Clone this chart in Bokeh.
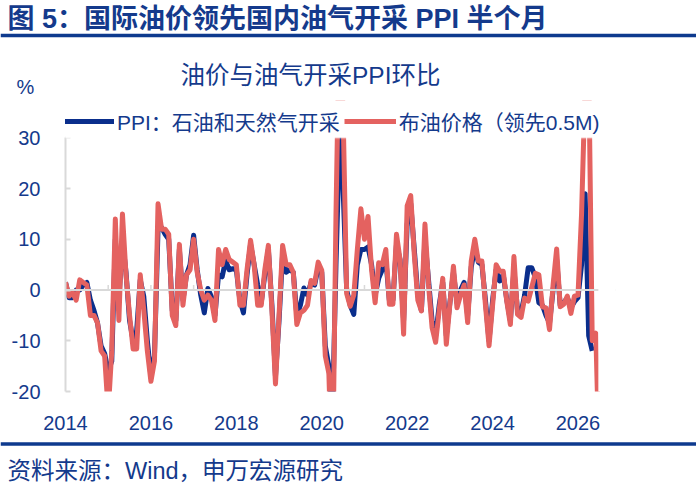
from bokeh.plotting import figure
from bokeh.layouts import column
from bokeh.models import (Range1d, Label, Span, Legend, LegendItem, FixedTicker,
                          BoxAnnotation, ColumnDataSource, PrintfTickFormatter)
from bokeh.embed import file_html
from bokeh.resources import INLINE

# ---------------- data ----------------
title_text = "图 5：国际油价领先国内油气开采 PPI 半个月"
subtitle_text = "油价与油气开采PPI环比"
unit_text = "%"
source_text = "资料来源：Wind，申万宏源研究"
series_names = ["PPI：石油和天然气开采", "布油价格（领先0.5M)"]

start_year = 2014          # first monthly observation: Jan 2014
x_end = 2026.48            # end of the time axis
year_labels = [2014, 2016, 2018, 2020, 2022, 2024, 2026]
year_marks = [2015, 2016, 2017, 2018, 2019, 2020, 2021, 2022, 2023, 2024, 2025, 2026]
y_ticks = [-20, -10, 0, 10, 20, 30]

# PPI: oil & gas extraction, m/m %, monthly from Jan 2014
ppi = [1.5, -1.5, -1.5, 0, 0, 1, 1.5, -2, -4, -6.5, -11, -12.5,
       -16, -14, 10, -2, 10, 3.5, -6, -10, -8, 2, -1.3, -10,
       -17, -13, 12, 12.3, 11, 10, -4, -6, 8, -2, 3, 5,
       10.8, 4, -1, -4.5, 0.3, -1.3, -5, 3, 2.6, 5.8, 4, 4.2,
       4, -2, -4.5, 3, 9, 5, 1, -2.5, 3, 8, -3, -17,
       -6, 7, 3.5, 4, 3.5, -5, -3, 0.4, -1, 1.5, 1, 4.5,
       3.5, -11, -15, -25, 5, 30, 20, 0, -3, -4.8, 5, 8,
       8, 8.5, 5, -1, 2.3, 4, 6, -2, -2, 9, 6, -6,
       13, 17, 8, -1, -4, 10, 2, -6, -9, -3, 1.5, -9,
       -2.5, 3.5, -2.5, 0, 1.5, -5, 4.5, 8.5, 5.5, 5, -2, -10,
       -2, 4, 1.8, 3, -2, -6, 4, -4, -4.5, -1, 4.4, 4.4,
       2.5, -2.5, -3, -5, -6.5, 0, 6, -3, -2.5, -1.5, -3.5, -2.3,
       -1.5, 5, 19, -9, -12]

# Brent price m/m %, led by half a month, monthly from Jan 2014
brent = [1.5, -1.2, -0.5, -2, 2, 1.5, 1, -5, -5, -6.5, -12, -13,
         -24, -12, 14, -6, 15, 3, -5, -11.6, -11.6, 3, -4, -12,
         -18, -14, 17, 12, 12, 11, -5, -7, 9, -3, 3, 4,
         10, 3.5, 0, -2, -1, -2, -6, 8, 5, 8, 6, 5.5,
         5, -3, -3, 4, 9.8, 5, -3, -3, 4, 8.8, -4, -18.5,
         -5, 8.8, 5, 5, 3.5, -6.8, -4.5, -4, -3, 1.9, 1.3, 5.5,
         3.9, -13, -16.4, -40, 15, 55, 35, -0.7, -3.2, -1, 8, 16,
         10, 14.5, 4, -2.5, 5.4, 5, 8, -2.8, -2.8, 11, 6, -8.7,
         16.6, 18.6, 7, -2, -4.1, 13, 1, -7.4, -10.3, -4, 2.3, -10.7,
         -2.8, 4.7, -3.5, -1, 1, -6.4, 5.7, 10, 5.7, 5.7, -3, -11,
         -3, 5, 3.7, 3.7, -2.3, -6.8, 6.6, -4.8, -5.4, -1.6, -2.2, 0.5,
         3.3, 3, -3.3, -3.5, -7.8, 1, 8.1, -3.3, -2.8, -1.2, -4.6, -1.2,
         -1, 15, 40, 45, -10, -8.5, -35]

ppi_src = ColumnDataSource(dict(t=[start_year + i / 12 for i in range(len(ppi))], v=ppi))
brent_src = ColumnDataSource(dict(t=[start_year + i / 12 for i in range(len(brent))], v=brent))

# ---------------- styling ----------------
NAVY = "#143A8C"
RULE = "#0E3A8E"
BLUE = "#0A2E8C"
RED = "#E46260"
GRAY = "#D9D9D9"
LATIN_CJK = "Liberation Sans, Noto Sans CJK SC"
W = 696


def blank(height):
    f = figure(width=W, height=height, output_backend="svg", toolbar_location=None,
               x_range=Range1d(0, W), y_range=Range1d(height, 0),
               x_axis_type=None, y_axis_type=None, min_border=0, title=None)
    f.frame_align = False
    f.outline_line_color = None
    f.background_fill_color = "white"
    f.border_fill_color = "white"
    return f


# ---------------- header ----------------
head = blank(100)
head.add_layout(Label(x=7, y=18, text=title_text, text_font=LATIN_CJK,
                      text_font_size="27px", text_font_style="bold", text_color=NAVY,
                      text_baseline="middle", text_align="left"))
head.add_layout(Span(location=35, dimension="width", line_color=RULE, line_width=3.5))
head.add_layout(Label(x=310, y=75, text=subtitle_text, text_font=LATIN_CJK,
                      text_font_size="24.5px", text_color=NAVY,
                      text_baseline="middle", text_align="center"))
head.add_layout(Label(x=25, y=86, text=unit_text, text_font="Liberation Sans",
                      text_font_size="20px", text_color=NAVY,
                      text_baseline="middle", text_align="center"))

# ---------------- main chart ----------------
# plot frame: x 65..615 px (time axis 2014..2026.48 occupies 65..598 px),
# y 100..396 px (value axis -20..30 occupies 138..396 px); the space beyond
# the axes carries the legend and is masked white.
p = figure(width=W, height=332, output_backend="svg", toolbar_location=None,
           x_range=Range1d(start_year, 2026.878), y_range=Range1d(y_ticks[0], 37.36),
           min_border_left=65, min_border_right=81, min_border_top=0,
           min_border_bottom=36, title=None)
p.frame_align = False
p.outline_line_color = None
p.xgrid.grid_line_color = None
p.ygrid.grid_line_color = None
p.background_fill_color = "white"
p.border_fill_color = "white"

ya = p.yaxis[0]
ya.ticker = FixedTicker(ticks=y_ticks)
ya.formatter = PrintfTickFormatter(format="%d")
ya.bounds = (y_ticks[0], y_ticks[-1])
ya.axis_line_color = GRAY
ya.axis_line_width = 2
ya.major_tick_line_color = GRAY
ya.major_tick_line_width = 2
ya.major_tick_in = 5
ya.major_tick_out = 0
ya.minor_tick_line_color = None
ya.major_label_standoff = 25
ya.major_label_text_font = "Liberation Sans"
ya.major_label_text_font_size = "20px"
ya.major_label_text_color = NAVY

xa = p.xaxis[0]
xa.ticker = FixedTicker(ticks=year_labels)
xa.axis_line_color = None
xa.major_tick_line_color = None
xa.minor_tick_line_color = None
xa.major_label_standoff = 18
xa.major_label_text_font = "Liberation Sans"
xa.major_label_text_font_size = "20px"
xa.major_label_text_color = NAVY

p.add_layout(Span(location=0, dimension="width", line_color=GRAY, line_width=2))
p.segment(x0=year_marks, x1=year_marks, y0=[0] * len(year_marks), y1=[1.0] * len(year_marks),
          line_color=GRAY, line_width=1.5)

r_ppi = p.line("t", "v", source=ppi_src, line_color=BLUE, line_width=5, line_join="round")
r_brent = p.line("t", "v", source=brent_src, line_color=RED, line_width=5, line_join="round")

# masks: nothing is drawn beyond the value axis top (30) or the time axis end
p.add_layout(BoxAnnotation(bottom=y_ticks[-1], top=100, left=2000, right=2100,
                           fill_color="white", fill_alpha=1,
                           line_color="white", line_width=3))
p.add_layout(BoxAnnotation(left=x_end, right=2100, bottom=-100, top=100,
                           fill_color="white", fill_alpha=1,
                           line_color="white", line_width=1))

legend = Legend(items=[LegendItem(label=series_names[0], renderers=[r_ppi]),
                       LegendItem(label=series_names[1], renderers=[r_brent])],
                orientation="horizontal", location=(-3, 255),
                glyph_width=52, glyph_height=20, label_standoff=3, spacing=4,
                padding=0, margin=0, label_height=20,
                label_text_font=LATIN_CJK, label_text_font_size="21px",
                label_text_color=NAVY, label_text_baseline="middle",
                background_fill_alpha=0, border_line_color=None)
p.add_layout(legend)

# ---------------- footer ----------------
foot = blank(66)
foot.add_layout(Span(location=11.5, dimension="width", line_color=RULE, line_width=3.5))
foot.add_layout(Label(x=7, y=38, text=source_text, text_font=LATIN_CJK,
                      text_font_size="23.5px", text_color=NAVY,
                      text_baseline="middle", text_align="left"))

page = column(head, p, foot, spacing=0)
open("out.html", "w").write(file_html(page, INLINE))
